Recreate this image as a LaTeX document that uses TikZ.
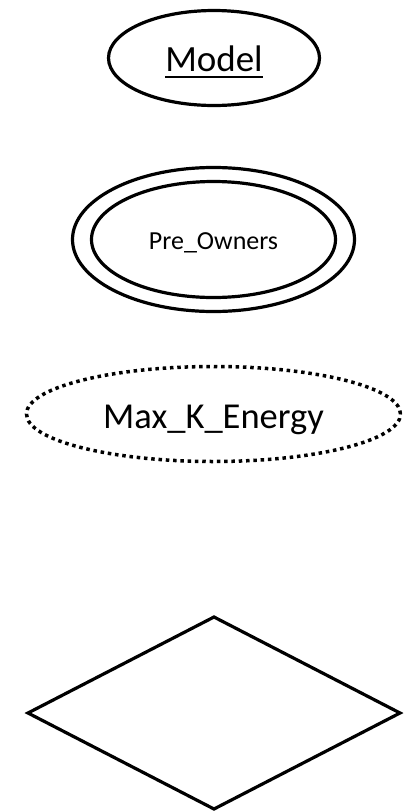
\documentclass[tikz,border=0pt]{standalone}
\usepackage{fontspec}
\setmainfont{Carlito}
\usetikzlibrary{shapes.geometric}

% thick underline for key attributes
\newcommand{\keyattr}[1]{\setbox0\hbox{#1}\rlap{\usebox0}\rule[-7.2pt]{\wd0}{2.4pt}}

\begin{document}
\begin{tikzpicture}[x=1pt, y=-1pt,
    shape base/.style={draw=black, line width=3.2pt, inner sep=0pt, outer sep=0pt},
    attr/.style={shape base, ellipse},
    derived/.style={attr, line width=3.5pt, dash pattern=on 3.5pt off 3.8pt},
    relation/.style={shape base, diamond, line join=miter},
    label/.style={anchor=base, inner sep=0pt}]
    \useasboundingbox (0,0) rectangle (405,812);

    % Key attribute
    \node[attr, minimum width=211pt, minimum height=95pt] (model) at (214,58) {};
    \node[label, font=\fontsize{37}{40}\selectfont] (modeltxt) at (214,71) {\keyattr{Model}};

    % Multivalued attribute (two rings)
    \node[attr, minimum width=282pt, minimum height=144pt] (owners) at (213.5,239.5) {};
    \node[attr, minimum width=244pt, minimum height=116pt] (ownersin) at (owners.center) {};
    \node[label, font=\fontsize{26}{30}\selectfont] (ownerstxt) at (213.5,249) {Pre\_Owners};

    % Derived attribute
    \node[derived, minimum width=374pt, minimum height=95pt] (energy) at (213.5,414) {};
    \node[label, font=\fontsize{36.5}{40}\selectfont] (energytxt) at (213.5,428) {Max\_K\_Energy};

    % Relationship
    \node[relation, minimum width=372pt, minimum height=192pt] (rel) at (214,713) {};
\end{tikzpicture}
\end{document}
